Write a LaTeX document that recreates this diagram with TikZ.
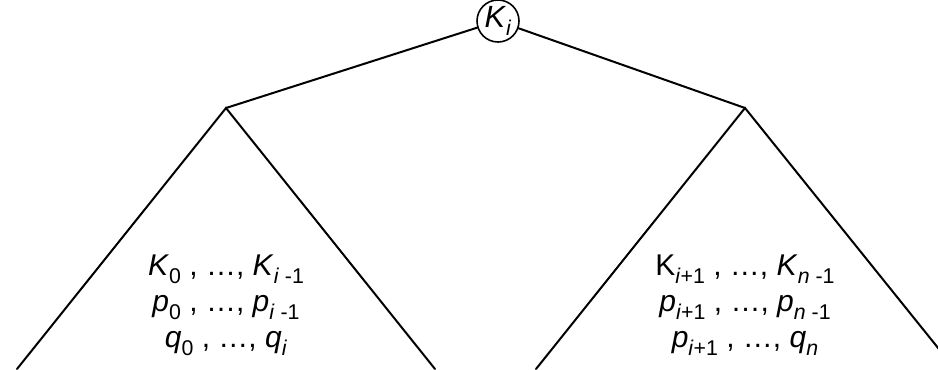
\documentclass[tikz,border=0pt]{standalone}
\usepackage{fontspec}
\setmainfont{Liberation Sans}
\newcommand{\sbs}[1]{\raisebox{-0.28em}{\fontsize{16}{16}\selectfont #1}}
\tikzset{
  edge/.style={line width=1.5pt, line cap=round},
  keynode/.style={circle, draw, line width=1.2pt, minimum size=31.5pt, inner sep=0pt, font=\fontsize{23}{23}\selectfont},
  label/.style={align=center, font=\fontsize{22.5}{27}\selectfont, inner sep=0pt}
}
\begin{document}
\begin{tikzpicture}[x=0.75pt,y=-0.75pt]
\useasboundingbox (0,0) rectangle (938,369);
\clip (0,0) rectangle (938,369);
\node[keynode] (root) at (498,21) {\textit{K}\sbs{\textit{i}}};
\coordinate (la) at (226,108);
\coordinate (ra) at (745,108);
\coordinate (lb1) at (17,369);
\coordinate (lb2) at (435,369);
\coordinate (rb1) at (536,369);
\coordinate (rb2) at (955,369);
\draw[edge] (root) -- (la);
\draw[edge] (root) -- (ra);
\draw[edge] (lb1) -- (la) -- (lb2);
\draw[edge] (rb1) -- (ra) -- (rb2);
\node[label] (lt) at (226,305) {\textit{K}\sbs{0} , …, \textit{K}\sbs{\textit{i} -1}\\
\textit{p}\sbs{0} , …, \textit{p}\sbs{\textit{i} -1}\\
\textit{q}\sbs{0} , …, \textit{q}\sbs{\textit{i}}};
\node[label] (rt) at (745,305) {K\sbs{\textit{i}+1} , …, \textit{K}\sbs{\textit{n} -1}\\
\textit{p}\sbs{\textit{i}+1} , …, \textit{p}\sbs{\textit{n} -1}\\
\textit{p}\sbs{\textit{i}+1} , …, \textit{q}\sbs{\textit{n}}};
\end{tikzpicture}
\end{document}
